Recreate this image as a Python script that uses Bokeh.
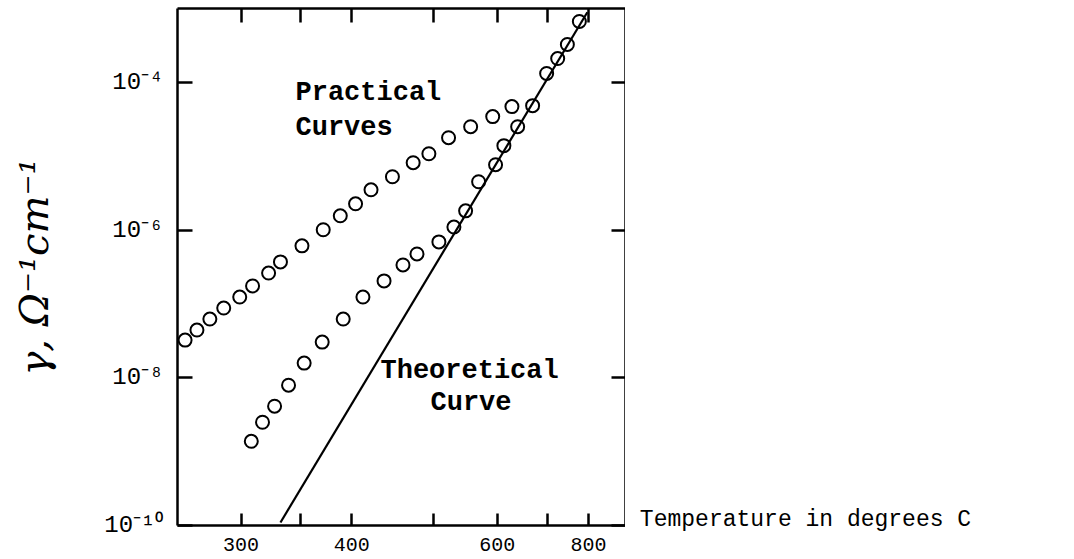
import math
from bokeh.plotting import figure
from bokeh.layouts import row
from bokeh.models import (Range1d, FixedTicker, LinearAxis, LogAxis,
                          CustomJSTickFormatter, Label, ColumnDataSource)
from bokeh.embed import file_html
from bokeh.resources import INLINE

# ---- data ----
practical_upper_temp_c = [260, 268, 277, 287, 299, 309, 322, 332, 351, 371,
                          388, 404, 421, 446, 472, 493, 521, 555, 592, 627]
practical_upper_sigma = [3.24e-8, 4.43e-8, 6.24e-8, 8.79e-8, 1.24e-7, 1.75e-7,
                         2.62e-7, 3.71e-7, 6.11e-7, 1.01e-6, 1.56e-6, 2.27e-6,
                         3.51e-6, 5.27e-6, 8.17e-6, 1.08e-5, 1.78e-5, 2.51e-5,
                         3.44e-5, 4.70e-5]

practical_lower_temp_c = [308, 317, 327, 339, 353, 370, 391, 412, 436, 459, 477,
                          507, 529, 547, 568, 597, 612, 638, 668, 698, 723, 746, 776]
practical_lower_sigma = [1.38e-9, 2.50e-9, 4.12e-9, 7.94e-9, 1.58e-8, 3.04e-8,
                         6.24e-8, 1.24e-7, 2.05e-7, 3.37e-7, 4.75e-7, 6.92e-7,
                         1.10e-6, 1.82e-6, 4.51e-6, 7.67e-6, 1.39e-5, 2.51e-5,
                         4.84e-5, 1.32e-4, 2.10e-4, 3.26e-4, 6.68e-4]

theoretical_temp_c = [332, 797]
theoretical_sigma = [1.1e-10, 8.9e-4]

x_tick_temps_c = [300, 350, 400, 500, 600, 700, 800]
x_labeled_temps_c = [300, 400, 600, 800]
y_tick_values = [1e-10, 1e-8, 1e-6, 1e-4]
x_limits_c = [255, 910]
y_limits = [1e-10, 1e-3]

x_title = "Temperature in degrees C"
y_title = "\u03b3, \u03a9\u207b\u00b9cm\u207b\u00b9"


def recip(t_c):
    # reciprocal absolute temperature axis (1000/K)
    return 1000.0 / (t_c + 273.15)


MONO = "Liberation Mono"

p = figure(width=625, height=559,
           x_range=Range1d(recip(x_limits_c[0]), recip(x_limits_c[1])),
           y_range=Range1d(y_limits[0], y_limits[1]),
           y_axis_type="log", output_backend="svg", toolbar_location=None,
           min_border_left=177, min_border_right=0,
           min_border_top=8, min_border_bottom=34)
p.grid.visible = False
p.outline_line_color = None
p.background_fill_color = "white"
p.border_fill_color = "white"

x_ticker = FixedTicker(ticks=[recip(t) for t in x_tick_temps_c])
y_ticker = FixedTicker(ticks=y_tick_values)

x_fmt = CustomJSTickFormatter(args=dict(labels=x_labeled_temps_c), code="""
const t = Math.round(1000.0 / tick - 273.15);
return labels.includes(t) ? String(t) : "";
""")
y_fmt = CustomJSTickFormatter(code="""
const e = Math.round(Math.log10(tick));
const sup = {"-": "\u207b", "0": "\u2070", "1": "\u00b9", "2": "\u00b2", "3": "\u00b3",
             "4": "\u2074", "5": "\u2075", "6": "\u2076", "7": "\u2077", "8": "\u2078", "9": "\u2079"};
return "10" + String(e).split("").map(c => sup[c]).join("");
""")
blank_fmt = CustomJSTickFormatter(code='return "";')


def style_axis(ax, tick_len):
    ax.axis_line_width = 2.5
    ax.axis_line_color = "black"
    ax.major_tick_in = tick_len
    ax.major_tick_out = 0
    ax.major_tick_line_width = 2.5
    ax.major_tick_line_color = "black"
    ax.minor_tick_in = 0
    ax.minor_tick_out = 0
    ax.minor_tick_line_color = None


xb = p.xaxis[0]
xb.ticker = x_ticker
xb.formatter = x_fmt
style_axis(xb, 12)
xb.major_label_text_font = MONO
xb.major_label_text_font_size = "20px"
xb.major_label_text_color = "black"
xb.major_label_standoff = 12

yl = p.yaxis[0]
yl.ticker = y_ticker
yl.formatter = y_fmt
style_axis(yl, 15)
yl.major_label_text_font = MONO
yl.major_label_text_font_size = "24px"
yl.major_label_text_color = "black"
yl.major_label_standoff = 14
yl.axis_label = y_title
yl.axis_label_text_font = "DejaVu Serif"
yl.axis_label_text_font_style = "italic"
yl.axis_label_text_font_size = "40px"
yl.axis_label_text_color = "black"
yl.axis_label_standoff = 44

top = LinearAxis(ticker=x_ticker, formatter=blank_fmt,
                 major_label_text_font_size="1px", major_label_standoff=0)
style_axis(top, 14)
p.add_layout(top, "above")

right = LogAxis(ticker=y_ticker, formatter=blank_fmt,
                major_label_text_font_size="1px", major_label_standoff=0)
style_axis(right, 14)
p.add_layout(right, "right")

# ---- marks ----
theo = ColumnDataSource(dict(x=[recip(t) for t in theoretical_temp_c],
                             y=theoretical_sigma))
p.line("x", "y", source=theo, line_color="black", line_width=2.2)

up = ColumnDataSource(dict(x=[recip(t) for t in practical_upper_temp_c],
                           y=practical_upper_sigma))
lo = ColumnDataSource(dict(x=[recip(t) for t in practical_lower_temp_c],
                           y=practical_lower_sigma))
for src in (up, lo):
    p.scatter("x", "y", source=src, marker="circle", size=13,
              fill_color=None, line_color="black", line_width=2)


# ---- texts ----
def add_text(fig, text, x, y, size, align="left", style="bold"):
    fig.add_layout(Label(x=x, y=y, x_units="screen", y_units="screen", text=text,
                         text_font=MONO, text_font_size=size, text_font_style=style,
                         text_color="black", text_align=align,
                         text_baseline="middle"))


add_text(p, "Practical", 118, 433, "27px")
add_text(p, "Curves", 118, 398, "27px")
add_text(p, "Theoretical", 203, 155, "27px")
add_text(p, "Curve", 253, 123, "27px")

# side panel carrying the horizontal-axis caption, to the right of the frame
q = figure(width=449, height=559, x_range=Range1d(0, 1), y_range=Range1d(0, 1),
           output_backend="svg", toolbar_location=None,
           x_axis_location=None, y_axis_location=None,
           min_border_left=0, min_border_right=0, min_border_top=0, min_border_bottom=0)
if "frame_align" in q.properties():
    q.frame_align = False
q.grid.visible = False
q.outline_line_color = None
q.background_fill_color = "white"
q.border_fill_color = "white"
add_text(q, x_title, 180, 40, "23px", align="center", style="normal")

layout = row(p, q, spacing=0)
open("out.html", "w").write(file_html(layout, INLINE))
